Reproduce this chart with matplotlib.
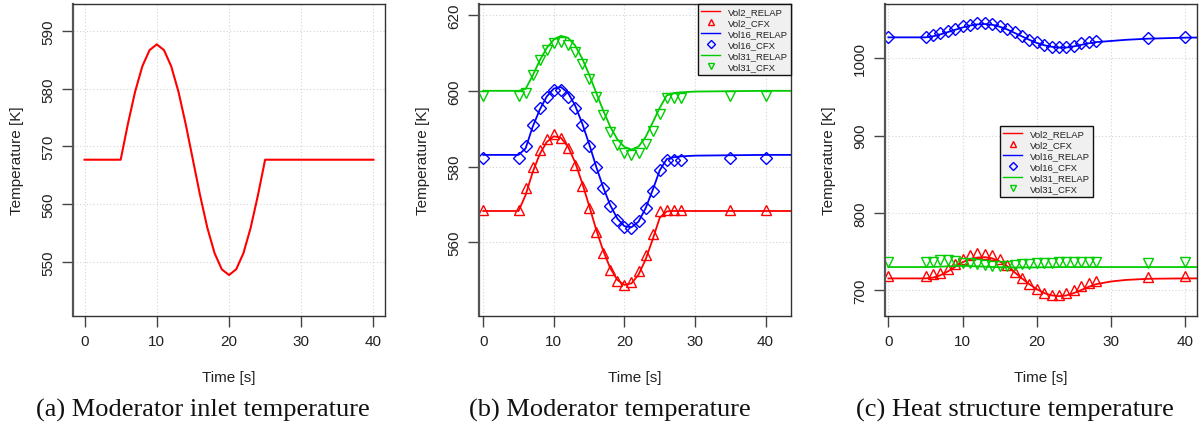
import matplotlib
matplotlib.use("Agg")
import matplotlib.pyplot as plt
from matplotlib.lines import Line2D

plt.rcParams['font.family'] = ['Liberation Sans', 'DejaVu Sans']

# ---------------- data ----------------
# (a) moderator inlet temperature
a_time = [0, 5, 6, 7, 8, 9, 10, 11, 12, 13, 14, 15, 16, 17, 18, 19, 20, 21, 22, 23, 24, 25, 40]
a_temp = [567.7, 567.7, 573.9, 579.5, 583.9, 586.7, 587.7, 586.7, 583.9, 579.5, 573.9, 567.7,
          561.5, 555.9, 551.5, 548.7, 547.7, 548.7, 551.5, 555.9, 561.5, 567.7, 567.7]

# CFX sample times (b and c)
cfx_time = [0, 5, 6, 7, 8, 9, 10, 11, 12, 13, 14, 15, 16, 17, 18, 19, 20, 21, 22, 23, 24, 25,
            26, 27, 28, 35, 40]

# (b) moderator temperature
b_relap_time = [0, 5, 6, 7, 8, 9, 10, 11, 12, 13, 14, 15, 16, 17, 18, 19, 20, 21, 22, 23, 24, 25,
                26, 27, 28, 30, 35, 40, 44]
b_vol2_relap = [568.3, 568.3, 572.5, 578.5, 583.3, 586.5, 588.0, 587.6, 585.3, 581.2, 575.8, 569.7,
                563.4, 557.8, 553.2, 550.1, 548.8, 549.2, 551.5, 555.5, 560.8, 566.5,
                568.2, 568.3, 568.3, 568.3, 568.3, 568.3, 568.3]
b_vol2_cfx = [568.5, 568.5, 574.4, 580.0, 584.4, 587.3, 588.6, 587.5, 584.8, 580.5, 575.0, 569.0,
              562.7, 557.1, 552.7, 549.9, 548.8, 549.6, 552.5, 556.7, 562.2, 568.2,
              568.5, 568.5, 568.5, 568.5, 568.5]
b_vol16_relap = [583.1, 583.1, 584.8, 590.5, 595.0, 598.5, 600.6, 601.0, 599.5, 596.2, 591.5, 586.0,
                 580.0, 574.5, 569.8, 566.3, 564.3, 564.0, 565.5, 569.0, 573.8, 579.0,
                 582.0, 582.5, 582.7, 582.9, 583.0, 583.1, 583.1]
b_vol16_cfx = [582.3, 582.3, 585.5, 591.0, 595.4, 598.5, 600.3, 600.2, 598.5, 595.5, 591.0, 585.5,
               579.8, 574.4, 569.7, 566.0, 564.1, 563.7, 565.7, 569.0, 573.7, 579.1,
               581.7, 581.8, 581.8, 582.2, 582.2]
b_vol31_relap = [600.0, 600.0, 600.5, 604.0, 608.0, 611.3, 613.5, 614.5, 614.0, 612.0, 608.6, 604.3,
                 599.5, 594.8, 590.5, 587.2, 585.2, 584.5, 585.3, 587.8, 591.6, 595.5,
                 598.8, 599.4, 599.6, 599.8, 599.9, 600.0, 600.0]
b_vol31_cfx = [598.6, 598.6, 599.3, 604.2, 608.0, 610.8, 612.5, 613.0, 612.2, 610.3, 607.1, 603.1,
               598.4, 593.6, 589.2, 585.8, 583.5, 583.1, 583.5, 586.0, 589.4, 593.9,
               598.1, 598.1, 598.1, 598.6, 598.6]

# (c) heat structure temperature
c_relap_time = [0, 5, 6, 7, 8, 9, 10, 11, 12, 13, 14, 15, 16, 17, 18, 19, 20, 21, 22, 23, 24, 25,
                26, 27, 28, 30, 32, 35, 40, 42]
c_vol2_relap = [715, 715, 716, 719, 724, 730, 736, 740, 742, 742.5, 741, 737, 731, 723, 715, 707.5,
                701, 696, 693, 692, 693, 696, 700, 704, 707.5, 711, 713, 714.5, 715, 715]
c_vol2_cfx = [718, 718, 720.2, 722.4, 727.6, 734, 740.6, 744.9, 747.5, 747, 744.9, 739.7, 732,
              723.3, 715.2, 707.4, 701, 696.6, 693.5, 693.5, 695.7, 699.6, 705.1, 708.6, 711.6,
              717.3, 718]
c_vol16_relap = [1027.2, 1027.2, 1028.5, 1031, 1034, 1037, 1040, 1042.5, 1044, 1044.5, 1043.5, 1041,
                 1037.5, 1033, 1028.5, 1024, 1020, 1017, 1015, 1014, 1014, 1015.5, 1017.5, 1019.5,
                 1021, 1022.5, 1024, 1025.5, 1026.8, 1027]
c_vol16_cfx = [1028, 1028, 1030.2, 1032.4, 1035, 1038, 1041.5, 1043.6, 1045.4, 1045.8, 1044.5,
               1042.3, 1038, 1033.7, 1029.3, 1024.1, 1020.7, 1017.3, 1015, 1014.3, 1015, 1016.4,
               1019.5, 1020.7, 1022, 1026.3, 1027.2]
c_vol31_relap = [729.7, 729.7, 729.9, 730.2, 730.6, 731, 731.2, 731, 730.6, 730.2, 729.8, 729.5,
                 729.3, 729.2, 729.2, 729.2, 729.3, 729.4, 729.5, 729.6, 729.7, 729.7, 729.7,
                 729.7, 729.7, 729.7, 729.7, 729.7, 729.7, 729.7]
c_vol31_cfx = [736.7, 736.7, 736.7, 738.4, 738.4, 737.5, 735.4, 734.5, 733.2, 732.4, 731.5, 731.5,
               731.5, 732.4, 733.2, 733.6, 734.5, 734.5, 735.4, 736.0, 736.7, 736.7, 736.7, 736.0,
               736.0, 734.5, 736.7]

series_names = ["Vol2_RELAP", "Vol2_CFX", "Vol16_RELAP", "Vol16_CFX", "Vol31_RELAP", "Vol31_CFX"]
captions = ["(a) Moderator inlet temperature", "(b) Moderator temperature",
            "(c) Heat structure temperature"]
x_ticks = [0, 10, 20, 30, 40]
a_yticks = [550, 560, 570, 580, 590]
b_yticks = [560, 580, 600, 620]
c_yticks = [700, 800, 900, 1000]

RED = "#ff0000"
BLUE = "#0000ff"
GREEN = "#00cd00"

W, H = 1201, 427
fig = plt.figure(figsize=(W / 100, H / 100), dpi=100)

def px_axes(l, r, t, b):
    return fig.add_axes([l / W, 1 - b / H, (r - l) / W, (b - t) / H])

ax_a = px_axes(73, 385, 5, 317)
ax_b = px_axes(479, 791, 5, 317)
ax_c = px_axes(885, 1197, 5, 317)

def style(ax, yticks):
    ax.set_xticks(x_ticks)
    ax.set_yticks(yticks)
    ax.grid(True, color="#d4d4d4", linestyle=(0, (1, 2)), linewidth=0.8)
    ax.set_axisbelow(True)
    for s in ax.spines.values():
        s.set_color("#333333")
        s.set_linewidth(1.0)
    ax.spines['left'].set_linewidth(1.6)
    ax.spines['left'].set_color("#555555")
    ax.tick_params(axis='both', direction='out', length=8, width=1.0, color="#444444",
                   labelsize=11, pad=5, labelcolor="#222222")
    for lab in ax.get_yticklabels():
        lab.set_rotation(90)
        lab.set_va('center')
    ax.set_xlabel("Time [s]", fontsize=11, labelpad=16, color="#222222")
    ax.set_ylabel("Temperature [K]", fontsize=11, labelpad=12, color="#222222")

# (a)
ax_a.plot(a_time, a_temp, color=RED, linewidth=1.5)
ax_a.set_xlim(-1.6, 41.6)
ax_a.set_ylim(540.6, 594.7)
style(ax_a, a_yticks)

mk = dict(linestyle='none', markerfacecolor='none', markersize=7, markeredgewidth=1.0)

def draw_set(ax, rt, r2, c2, r16, c16, r31, c31):
    ax.plot(rt, r2, color=RED, linewidth=1.3)
    ax.plot(cfx_time, c2, marker='^', color=RED, **mk)
    ax.plot(rt, r16, color=BLUE, linewidth=1.3)
    ax.plot(cfx_time, c16, marker='D', color=BLUE, **dict(mk, markersize=6.3))
    ax.plot(rt, r31, color=GREEN, linewidth=1.3)
    ax.plot(cfx_time, c31, marker='v', color=GREEN, **mk)

def legend_handles():
    sm = dict(linestyle='none', markerfacecolor='none', markersize=4.5, markeredgewidth=1.0)
    return [
        Line2D([], [], color=RED, linewidth=1.0),
        Line2D([], [], color=RED, marker='^', **sm),
        Line2D([], [], color=BLUE, linewidth=1.0),
        Line2D([], [], color=BLUE, marker='D', **dict(sm, markersize=3.8)),
        Line2D([], [], color=GREEN, linewidth=1.0),
        Line2D([], [], color=GREEN, marker='v', **sm),
    ]

def add_legend(ax, **kw):
    leg = ax.legend(legend_handles(), series_names, fontsize=6.8, fancybox=False,
                    framealpha=1, facecolor="#f0f0f0", edgecolor="#111111",
                    labelspacing=0.22, handlelength=2.0, handletextpad=0.8,
                    borderpad=0.35, borderaxespad=0, **kw)
    leg.get_frame().set_linewidth(1.0)
    for t in leg.get_texts():
        t.set_color("#222222")
    return leg

# (b)
draw_set(ax_b, b_relap_time, b_vol2_relap, b_vol2_cfx, b_vol16_relap, b_vol16_cfx,
         b_vol31_relap, b_vol31_cfx)
ax_b.set_xlim(-0.6, 43.6)
ax_b.set_ylim(540.6, 622.9)
style(ax_b, b_yticks)
add_legend(ax_b, loc='upper right', bbox_to_anchor=(1.0, 1.0))

# (c)
draw_set(ax_c, c_relap_time, c_vol2_relap, c_vol2_cfx, c_vol16_relap, c_vol16_cfx,
         c_vol31_relap, c_vol31_cfx)
ax_c.set_xlim(-0.46, 41.6)
ax_c.set_ylim(666.3, 1070.4)
style(ax_c, c_yticks)
add_legend(ax_c, loc='upper left', bbox_to_anchor=(0.369, 0.61))

# captions
for cx, cap in zip([203, 610, 1015], captions):
    fig.text(cx / W, 1 - 410 / H, cap, ha='center', va='center', fontsize=19,
             family=['Liberation Serif', 'DejaVu Serif'], color="#111111")

fig.savefig("out.png", dpi=100)
